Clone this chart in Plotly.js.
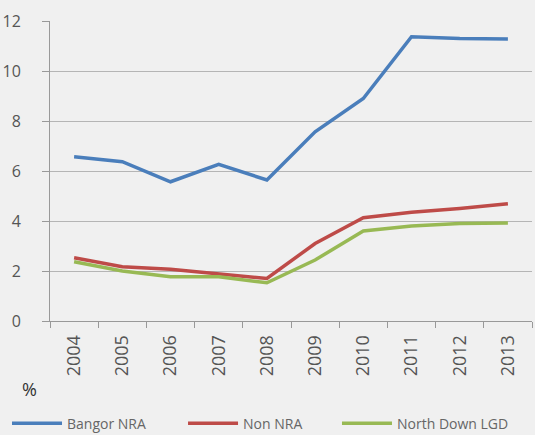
<!DOCTYPE html>
<html>
<head>
<meta charset="utf-8">
<script src="https://cdn.plot.ly/plotly-3.0.1.min.js"></script>
<style>html,body{margin:0;padding:0;background:#f0f0f0;}#chart{width:535px;height:435px;}</style>
</head>
<body>
<div id="chart"></div>
<script>
const years = ['2004','2005','2006','2007','2008','2009','2010','2011','2012','2013'];
const bangorNRA = [6.57, 6.37, 5.57, 6.27, 5.64, 7.57, 8.9, 11.37, 11.3, 11.28];
const nonNRA = [2.53, 2.17, 2.07, 1.9, 1.7, 3.1, 4.13, 4.35, 4.5, 4.69];
const northDownLGD = [2.37, 2.0, 1.77, 1.77, 1.53, 2.44, 3.6, 3.8, 3.9, 3.92];
const seriesNames = ['Bangor NRA', 'Non NRA', 'North Down LGD'];
const yTicks = [0, 2, 4, 6, 8, 10, 12];

const colors = ['#4a7ebb', '#be4b48', '#98b954'];
const legendIds = ['legend', 'legend2', 'legend3'];
const data = [bangorNRA, nonNRA, northDownLGD].map((vals, i) => ({
  x: years, y: vals, type: 'scatter', mode: 'lines', name: seriesNames[i],
  legend: legendIds[i],
  line: {color: colors[i], width: 3.5}
}));

function legendAt(xp) {
  return {orientation: 'h', x: xp, xanchor: 'left', y: -0.342, yanchor: 'middle',
          font: {size: 14, color: '#666'}, bgcolor: 'rgba(0,0,0,0)', itemwidth: 50};
}

const layout = {
  width: 535, height: 435,
  margin: {l: 50, r: 3, t: 21, b: 114, autoexpand: false},
  paper_bgcolor: '#f0f0f0', plot_bgcolor: '#f0f0f0',
  font: {family: 'Open Sans, Liberation Sans, sans-serif', size: 12, color: '#555'},
  showlegend: true,
  legend: legendAt(-0.0892),
  legend2: legendAt(0.276),
  legend3: legendAt(0.5954),
  xaxis: {type: 'category', range: [-0.5, 9.5], tickangle: -90, showgrid: false, showline: true, linecolor: '#999',
          ticks: 'outside', ticklen: 6, tickcolor: '#999', tickson: 'boundaries', ticklabelstandoff: 6,
          tickfont: {size: 18, color: '#555'}, fixedrange: true},
  yaxis: {range: [0, 12], tickvals: yTicks, showgrid: true, gridcolor: '#b5b5b5', gridwidth: 1,
          showline: true, linecolor: '#999', ticks: 'outside', ticklen: 7, tickcolor: '#999',
          zeroline: false, tickfont: {size: 16, color: '#555'}, ticklabelstandoff: 18},
  annotations: [{text: '%', xref: 'paper', yref: 'paper', x: -0.042, y: -0.228, showarrow: false,
                 font: {size: 18, color: '#333'}, xanchor: 'center', yanchor: 'middle'}]
};
Plotly.newPlot('chart', data, layout, {staticPlot: true});
</script>
</body>
</html>
